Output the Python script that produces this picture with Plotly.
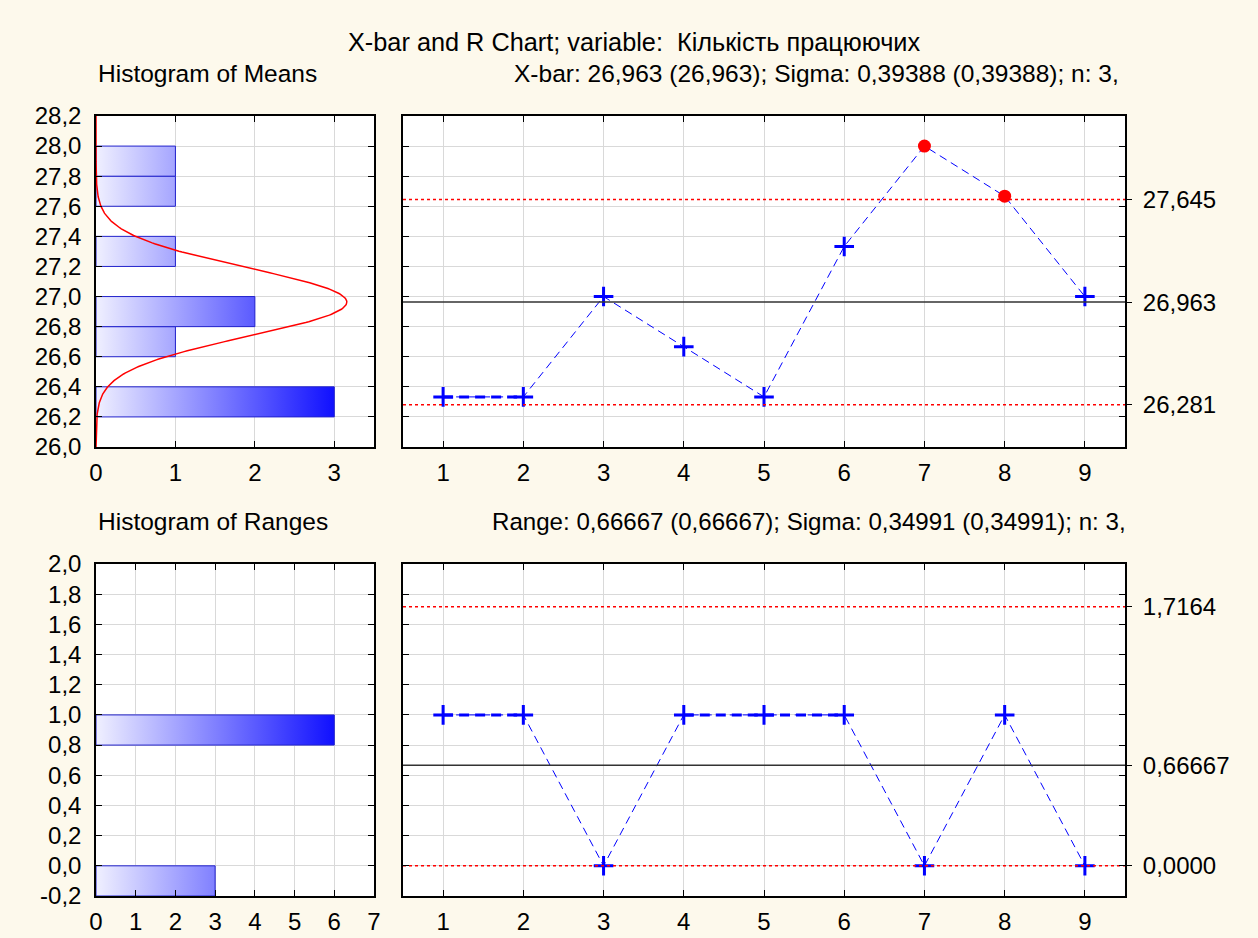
import numpy as np
import plotly.graph_objects as go

# ---------------- data ----------------
samples = [1, 2, 3, 4, 5, 6, 7, 8, 9]
means = [26.333, 26.333, 27.0, 26.667, 26.333, 27.333, 28.0, 27.667, 27.0]
ranges = [1, 1, 0, 1, 1, 1, 0, 1, 0]

xbar_cl, xbar_ucl, xbar_lcl = 26.963, 27.645, 26.281
xbar_labels = ["26,281", "26,963", "27,645"]
r_cl, r_ucl, r_lcl = 0.66667, 1.7164, 0.0
r_labels = ["0,0000", "0,66667", "1,7164"]
sigma_ind = 0.39388
n_sub = 3

mean_bin_lo = [26.2, 26.6, 26.8, 27.2, 27.6, 27.8]
mean_bin_cnt = [3, 1, 2, 1, 1, 1]
mean_bin_w = 0.2
range_bin_lo = [-0.2, 0.8]
range_bin_cnt = [3, 6]
range_bin_w = 0.2

title_txt = "X-bar and R Chart; variable:\u00a0 Кількість працюючих"
h1_left = "Histogram of Means"
h1_right = "X-bar: 26,963 (26,963); Sigma: 0,39388 (0,39388); n: 3,"
h2_left = "Histogram of Ranges"
h2_right = "Range: 0,66667 (0,66667); Sigma: 0,34991 (0,34991); n: 3,"

# ---------------- style ----------------
W, H = 1258, 938
FONT = "Liberation Sans, Arial, sans-serif"
FS = 24
BG = "#FDF9EC"
GRID = "#D9D9D9"
BLUE = "#0000FF"

def px_x(p):
    return p / W

def px_y(p):
    return 1 - p / H

dom_hist = [px_x(96), px_x(374)]
dom_main = [px_x(403), px_x(1125)]
dom_top = [px_y(447), px_y(116)]
dom_bot = [px_y(896), px_y(564)]

fig = go.Figure()

def add_hist(lo_list, cnt_list, w, xa, ya):
    stop = max(cnt_list)
    for lo, c in zip(lo_list, cnt_list):
        fig.add_trace(go.Scatter(
            x=[0, c, c, 0, 0], y=[lo, lo, lo + w, lo + w, lo],
            mode="lines", fill="toself",
            fillgradient=dict(type="horizontal",
                              colorscale=[[0, "#F0F0FF"], [1, "#1010FF"]],
                              start=0, stop=stop),
            line=dict(color="#2222CC", width=1),
            xaxis=xa, yaxis=ya, showlegend=False, hoverinfo="skip"))

def add_chart(vals, cl, ucl, lcl, xa, ya, ya_lab):
    xr = [0.5, 9.5]
    for val, col, dash, wd in [(ucl, "#FF0000", "dot", 1.5),
                               (lcl, "#FF0000", "dot", 1.5),
                               (cl, "#333333", "solid", 1.5)]:
        fig.add_trace(go.Scatter(
            x=xr, y=[val, val], mode="lines",
            line=dict(color=col, width=wd, dash=dash),
            xaxis=xa, yaxis=ya_lab, showlegend=False, hoverinfo="skip"))
    fig.add_trace(go.Scatter(
        x=samples, y=vals, mode="lines",
        line=dict(color=BLUE, width=1, dash="8px,5px"),
        xaxis=xa, yaxis=ya, showlegend=False, hoverinfo="skip"))
    # flat segments render heavier in the original
    fx, fy = [], []
    for i in range(len(vals) - 1):
        if vals[i] == vals[i + 1]:
            fx += [samples[i], samples[i + 1], None]
            fy += [vals[i], vals[i + 1], None]
    if fx:
        fig.add_trace(go.Scatter(
            x=fx, y=fy, mode="lines", connectgaps=False,
            line=dict(color=BLUE, width=3, dash="10px,6px"),
            xaxis=xa, yaxis=ya, showlegend=False, hoverinfo="skip"))
    ok = [(s, v) for s, v in zip(samples, vals) if lcl <= v <= ucl]
    bad = [(s, v) for s, v in zip(samples, vals) if not (lcl <= v <= ucl)]
    if ok:
        fig.add_trace(go.Scatter(
            x=[s for s, _ in ok], y=[v for _, v in ok], mode="markers",
            marker=dict(symbol="cross-thin", size=14, color=BLUE,
                        line=dict(color=BLUE, width=3)),
            xaxis=xa, yaxis=ya, showlegend=False, hoverinfo="skip"))
    if bad:
        fig.add_trace(go.Scatter(
            x=[s for s, _ in bad], y=[v for _, v in bad], mode="markers",
            marker=dict(symbol="circle", size=13, color="#FF0000",
                        line=dict(width=0)),
            xaxis=xa, yaxis=ya, showlegend=False, hoverinfo="skip"))

# top row
add_hist(mean_bin_lo, mean_bin_cnt, mean_bin_w, "x", "y")
sig_m = sigma_ind / np.sqrt(n_sub)
yy = np.linspace(26.0, 28.2, 400)
xx = len(means) * mean_bin_w * np.exp(-0.5 * ((yy - xbar_cl) / sig_m) ** 2) / (sig_m * np.sqrt(2 * np.pi))
fig.add_trace(go.Scatter(x=xx, y=yy, mode="lines", line=dict(color="#FF0000", width=1.5),
                         xaxis="x", yaxis="y", showlegend=False, hoverinfo="skip"))
add_chart(means, xbar_cl, xbar_ucl, xbar_lcl, "x2", "y2", "y3")

# bottom row
add_hist(range_bin_lo, range_bin_cnt, range_bin_w, "x3", "y4")
add_chart(ranges, r_cl, r_ucl, r_lcl, "x4", "y5", "y6")

def fmt(v):
    return f"{v:.1f}".replace(".", ",").replace("-0,0", "0,0")

top_ticks = [round(26.0 + 0.2 * i, 1) for i in range(12)]
bot_ticks = [round(-0.2 + 0.2 * i, 1) for i in range(12)]

tickfont = dict(family=FONT, size=FS, color="#000000")
common_y = dict(showline=True, linecolor="#000000", linewidth=1.5, mirror="ticks",
                ticks="inside", ticklen=6, tickcolor="#000000", tickwidth=1,
                showgrid=True, gridcolor=GRID, gridwidth=1, zeroline=False,
                tickfont=tickfont, ticklabelstandoff=8, fixedrange=True,
                automargin=False)
common_x = dict(common_y, ticklabelstandoff=3)
lab_axis = dict(side="right", ticks="outside", ticklen=6, tickcolor="#000000",
                showgrid=False, zeroline=False, showline=False, tickfont=tickfont,
                ticklabelstandoff=6, fixedrange=True, automargin=False)

fig.update_layout(
    xaxis=dict(common_x, domain=dom_hist, anchor="y", range=[0, 3.5],
               tickvals=[0, 1, 2, 3], ticktext=["0", "1", "2", "3"]),
    yaxis=dict(common_y, domain=dom_top, anchor="x", range=[26.0, 28.2],
               tickvals=top_ticks, ticktext=[fmt(v) for v in top_ticks]),
    xaxis2=dict(common_x, domain=dom_main, anchor="y2", range=[0.5, 9.5],
                tickvals=samples, ticktext=[str(s) for s in samples]),
    yaxis2=dict(common_y, domain=dom_top, anchor="x2", range=[26.0, 28.2],
                tickvals=top_ticks, showticklabels=False),
    yaxis3=dict(lab_axis, overlaying="y2", anchor="x2", range=[26.0, 28.2],
                tickvals=[xbar_lcl, xbar_cl, xbar_ucl], ticktext=xbar_labels),
    xaxis3=dict(common_x, domain=dom_hist, anchor="y4", range=[0, 7],
                tickvals=list(range(8)), ticktext=[str(i) for i in range(8)]),
    yaxis4=dict(common_y, domain=dom_bot, anchor="x3", range=[-0.2, 2.0],
                tickvals=bot_ticks, ticktext=[fmt(v) for v in bot_ticks]),
    xaxis4=dict(common_x, domain=dom_main, anchor="y5", range=[0.5, 9.5],
                tickvals=samples, ticktext=[str(s) for s in samples]),
    yaxis5=dict(common_y, domain=dom_bot, anchor="x4", range=[-0.2, 2.0],
                tickvals=bot_ticks, showticklabels=False),
    yaxis6=dict(lab_axis, overlaying="y5", anchor="x4", range=[-0.2, 2.0],
                tickvals=[r_lcl, r_cl, r_ucl], ticktext=r_labels),
)

anns = [
    dict(text=title_txt, x=px_x(634), y=px_y(42), xanchor="center", size=25.3),
    dict(text=h1_left, x=px_x(96), y=px_y(74), xanchor="left", size=24.5),
    dict(text=h1_right, x=px_x(1121), y=px_y(74), xanchor="right", size=24.5),
    dict(text=h2_left, x=px_x(96), y=px_y(521), xanchor="left", size=24.5),
    dict(text=h2_right, x=px_x(1128), y=px_y(521), xanchor="right", size=24.1),
]
for a in anns:
    sz = a.pop("size")
    fig.add_annotation(xref="paper", yref="paper", showarrow=False, yanchor="middle",
                       font=dict(family=FONT, size=sz, color="#000000"), **a)

fig.update_layout(
    width=W, height=H, margin=dict(l=0, r=0, t=0, b=0, autoexpand=False),
    paper_bgcolor=BG, plot_bgcolor="#FFFFFF",
    showlegend=False, font=dict(family=FONT, size=FS, color="#000000"),
)

fig.write_html("out.html", config={"displayModeBar": False},
               post_script="document.body.style.margin='0';document.body.style.padding='0';")
